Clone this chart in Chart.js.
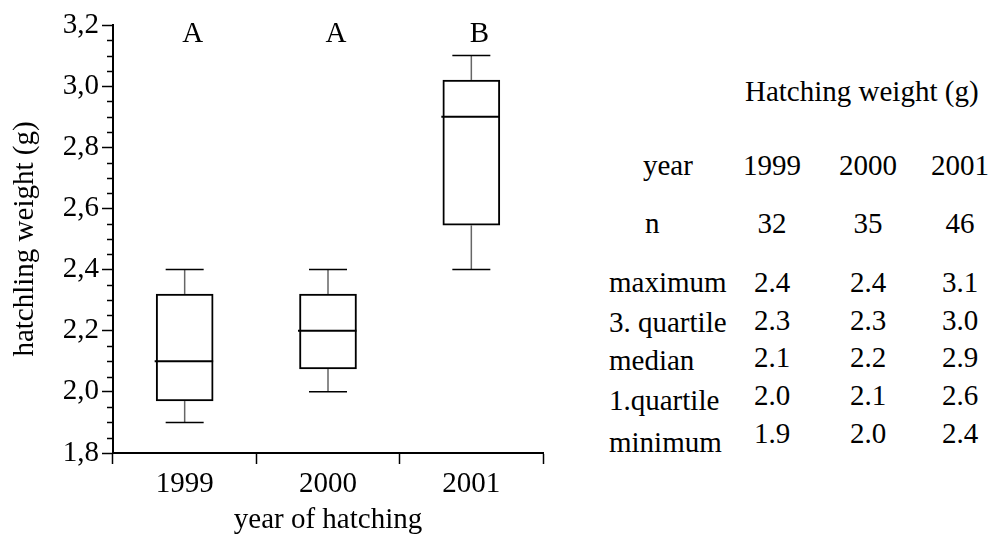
<!DOCTYPE html>
<html>
<head>
<meta charset="utf-8">
<script src="https://cdn.jsdelivr.net/npm/chart.js@4.4.0/dist/chart.umd.min.js"></script>
<style>
    body { margin: 0; background: #fff; font-family: 'Times New Roman', 'Liberation Serif', serif; }
    #wrap { position: relative; width: 998px; height: 538px; overflow: hidden; }
    #chartBox { position: absolute; left: 0; top: 0; width: 560px; height: 538px; }
    .cell {
        position: absolute;
        font-family: 'Times New Roman', 'Liberation Serif', serif !important;
        font-size: 29px;
        line-height: 1;
        color: #000;
        white-space: nowrap;
    }
</style>
</head>
<body>
<div id="wrap">
    <div id="chartBox"><canvas id="box_canvas" width="560" height="538"></canvas></div>
</div>
<script>
// box plot values
const years = ['1999', '2000', '2001'];
const minimum = [1.9, 2.0, 2.4];
const quartile1 = [1.97, 2.075, 2.545];
const median = [2.1, 2.2, 2.9];
const quartile3 = [2.32, 2.32, 3.02];
const maximum = [2.4, 2.4, 3.1];
const groups = ['A', 'A', 'B'];

// table on the right
const sampleSize = ['32', '35', '46'];
const rowLabels = ['maximum', '3. quartile', 'median', '1.quartile', 'minimum'];
const table1999 = ['2.4', '2.3', '2.1', '2.0', '1.9'];
const table2000 = ['2.4', '2.3', '2.2', '2.1', '2.0'];
const table2001 = ['3.1', '3.0', '2.9', '2.6', '2.4'];

const fontName = "'Times New Roman', 'Liberation Serif', serif";
Chart.defaults.font.family = fontName;
Chart.defaults.font.size = 29;
Chart.defaults.color = '#000';

const boxParts = {
    id: 'boxParts',
    afterDatasetsDraw(chart) {
        const ctx = chart.ctx;
        const x = chart.scales.x;
        const y = chart.scales.y;
        ctx.save();
        // minor ticks on the y axis
        ctx.strokeStyle = '#000';
        ctx.lineWidth = 1.5;
        for (let v = 1.85; v < 3.2; v += 0.05) {
            if (Math.abs(v * 5 - Math.round(v * 5)) < 0.01) continue;
            const py = Math.round(y.getPixelForValue(v)) + 0.5;
            ctx.beginPath();
            ctx.moveTo(x.left - 6, py);
            ctx.lineTo(x.left, py);
            ctx.stroke();
        }
        years.forEach(function(yr, i) {
            const cx = x.getPixelForValue(i);
            // whiskers
            ctx.strokeStyle = '#666';
            ctx.lineWidth = 1.5;
            ctx.beginPath();
            ctx.moveTo(cx, y.getPixelForValue(quartile3[i]));
            ctx.lineTo(cx, y.getPixelForValue(maximum[i]));
            ctx.moveTo(cx, y.getPixelForValue(quartile1[i]));
            ctx.lineTo(cx, y.getPixelForValue(minimum[i]));
            ctx.stroke();
            // caps
            ctx.strokeStyle = '#000';
            ctx.beginPath();
            ctx.moveTo(cx - 19, y.getPixelForValue(maximum[i]));
            ctx.lineTo(cx + 19, y.getPixelForValue(maximum[i]));
            ctx.moveTo(cx - 19, y.getPixelForValue(minimum[i]));
            ctx.lineTo(cx + 19, y.getPixelForValue(minimum[i]));
            ctx.stroke();
            // median
            ctx.lineWidth = 2;
            ctx.beginPath();
            ctx.moveTo(cx - 30, y.getPixelForValue(median[i]));
            ctx.lineTo(cx + 28.5, y.getPixelForValue(median[i]));
            ctx.stroke();
            // group letters
            ctx.fillStyle = '#000';
            ctx.font = '29px ' + fontName;
            ctx.textAlign = 'center';
            ctx.textBaseline = 'alphabetic';
            ctx.fillText(groups[i], cx + 8, 42);
        });
        ctx.restore();
    }
};

const canvasEl = document.querySelector('#box_canvas');
const box_canvas = new Chart(canvasEl, {
    type: 'bar',
    data: {
        labels: years,
        datasets: [{
            data: years.map(function(yr, i) { return [quartile1[i], quartile3[i]]; }),
            backgroundColor: '#fff',
            borderColor: '#000',
            borderWidth: 2,
            borderSkipped: false,
            barThickness: 57
        }]
    },
    options: {
        responsive: false,
        animation: false,
        layout: { padding: { top: 25, right: 17, left: 0, bottom: 0 } },
        plugins: { legend: { display: false }, tooltip: { enabled: false } },
        scales: {
            x: {
                offset: true,
                afterFit: function(scale) { scale.height = 85; },
                grid: { offset: true, drawOnChartArea: false, tickLength: 11, tickColor: '#000', tickWidth: 1.5 },
                border: { color: '#000', width: 2 },
                ticks: { color: '#000', padding: 3, font: { family: fontName, size: 29 } },
                title: { display: true, text: 'year of hatching', color: '#000', padding: { top: 0, bottom: 0 }, font: { family: fontName, size: 29 } }
            },
            y: {
                min: 1.8,
                max: 3.2,
                afterFit: function(scale) { scale.width = 113; },
                grid: { drawOnChartArea: false, tickLength: 11, tickColor: '#000', tickWidth: 1.5 },
                border: { color: '#000', width: 2 },
                ticks: {
                    stepSize: 0.2,
                    color: '#000',
                    padding: 3,
                    font: { family: fontName, size: 29 },
                    callback: function(v) { return v.toFixed(1).replace('.', ','); }
                },
                title: { display: true, text: 'hatchling weight (g)', color: '#000', padding: { top: 8, bottom: 0 }, font: { family: fontName, size: 29 } }
            }
        }
    },
    plugins: [boxParts]
});

// table text
const wrap = document.querySelector('#wrap');
const F = 29;
function addText(str, x, baseline, align) {
    const d = document.createElement('div');
    d.className = 'cell';
    d.textContent = str;
    d.style.left = x + 'px';
    d.style.top = (baseline - 0.8375 * F) + 'px';
    if (align === 'center') d.style.transform = 'translateX(-50%)';
    wrap.appendChild(d);
}
const colX = [772, 868, 960];
addText('Hatching weight (g)', 745, 101, 'left');
addText('year', 643, 175, 'left');
years.forEach(function(yr, i) { addText(yr, colX[i], 175, 'center'); });
addText('n', 645, 233, 'left');
sampleSize.forEach(function(n, i) { addText(n, colX[i], 233, 'center'); });
const numBase = [292, 330, 367, 405, 443];
const labelBase = [292, 332, 370, 410, 452];
rowLabels.forEach(function(lab, r) {
    addText(lab, 609, labelBase[r], 'left');
    addText(table1999[r], colX[0], numBase[r], 'center');
    addText(table2000[r], colX[1], numBase[r], 'center');
    addText(table2001[r], colX[2], numBase[r], 'center');
});
</script>
</body>
</html>
